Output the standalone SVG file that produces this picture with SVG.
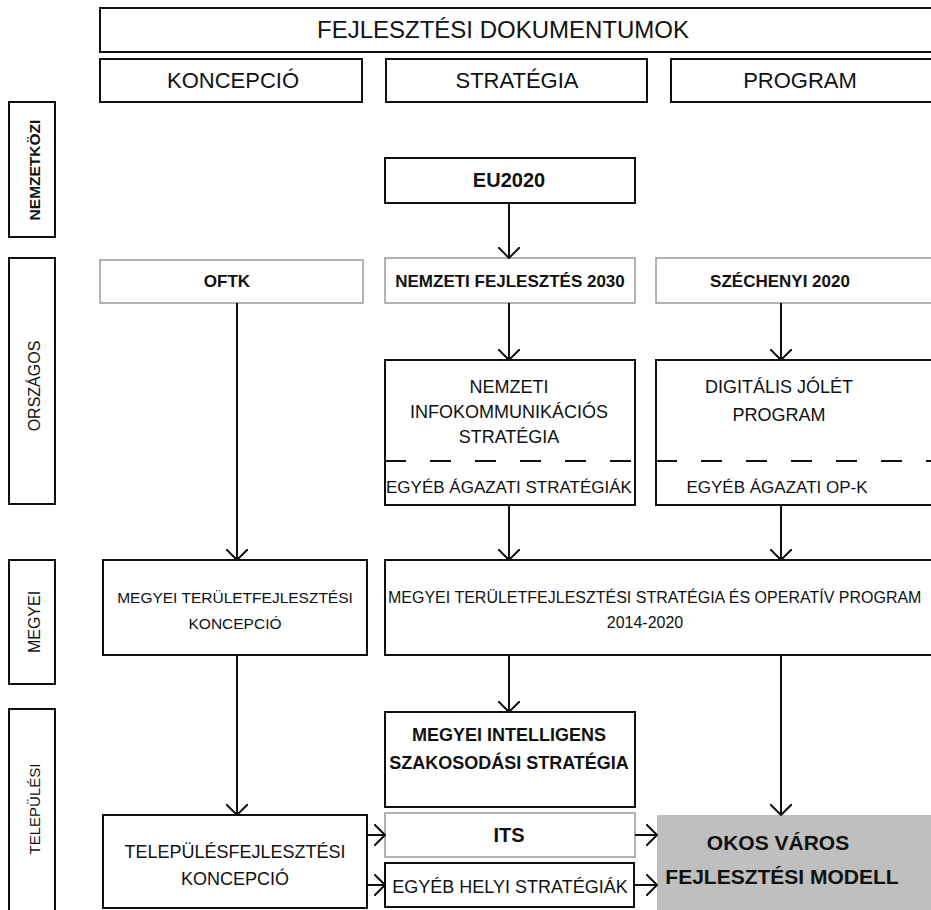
<svg xmlns="http://www.w3.org/2000/svg" width="931" height="910" viewBox="0 0 931 910">
<style>
text{font-family:"Liberation Sans",Arial,sans-serif;fill:#111;text-anchor:middle}
.box{fill:#fff;stroke:#111;stroke-width:2}
.light{fill:#fff;stroke:#9a9a9a;stroke-width:1.5}
.grey{fill:#bfbfbf;stroke:none}
.dash{stroke:#111;stroke-width:2;stroke-dasharray:21 24;fill:none}
.b{font-weight:bold}
.conn line{stroke:#111;stroke-width:2;marker-end:url(#arr)}
</style>
<defs>
<marker id="arr" markerUnits="userSpaceOnUse" viewBox="0 0 12 22" refX="11" refY="11" markerWidth="12" markerHeight="22" orient="auto">
<path d="M0,0 L11,11 L0,22" fill="none" stroke="#111" stroke-width="2"/>
</marker>
</defs>
<rect width="931" height="910" fill="#fff"/>

<g id="header">
<rect class="box" x="100" y="8" width="850" height="44"/>
<text x="503" y="38" font-size="24">FEJLESZTÉSI DOKUMENTUMOK</text>
</g>
<g id="h-koncepcio">
<rect class="box" x="100" y="59" width="262" height="43"/>
<text x="233" y="88" font-size="22">KONCEPCIÓ</text>
</g>
<g id="h-strategia">
<rect class="box" x="386" y="59" width="261" height="43"/>
<text x="517" y="88" font-size="22">STRATÉGIA</text>
</g>
<g id="h-program">
<rect class="box" x="671" y="59" width="280" height="43"/>
<text x="800" y="88" font-size="22">PROGRAM</text>
</g>

<g id="l-nemzetkozi">
<rect class="box" x="9" y="102" width="46" height="135"/>
<text transform="translate(40,170) rotate(-90)" font-size="15.5" class="b">NEMZETKÖZI</text>
</g>
<g id="l-orszagos">
<rect class="box" x="9" y="258" width="46" height="246"/>
<text transform="translate(40,386) rotate(-90)" font-size="16">ORSZÁGOS</text>
</g>
<g id="l-megyei">
<rect class="box" x="9" y="560" width="46" height="124"/>
<text transform="translate(40,622) rotate(-90)" font-size="16">MEGYEI</text>
</g>
<g id="l-telepulesi">
<rect class="box" x="9" y="709" width="46" height="215"/>
<text transform="translate(40,809) rotate(-90)" font-size="15">TELEPÜLÉSI</text>
</g>

<g id="eu2020">
<rect class="box" x="385" y="158" width="250" height="45"/>
<text x="509" y="187" font-size="20" class="b">EU2020</text>
</g>
<g id="oftk">
<rect class="light" x="100" y="260" width="263" height="43"/>
<text x="227" y="287" font-size="17" class="b">OFTK</text>
</g>
<g id="nf2030">
<rect class="light" x="385" y="258" width="250" height="45"/>
<text x="510" y="287" font-size="17" class="b">NEMZETI FEJLESZTÉS 2030</text>
</g>
<g id="szechenyi">
<rect class="light" x="656" y="258" width="290" height="45"/>
<text x="780" y="287" font-size="17" class="b">SZÉCHENYI 2020</text>
</g>

<g id="nis">
<rect class="box" x="385" y="360" width="250" height="145"/>
<text x="509" y="393" font-size="18">NEMZETI</text>
<text x="509" y="418" font-size="18">INFOKOMMUNIKÁCIÓS</text>
<text x="509" y="443" font-size="18">STRATÉGIA</text>
<line class="dash" x1="385" y1="461" x2="635" y2="461"/>
<text x="509" y="493" font-size="17">EGYÉB ÁGAZATI STRATÉGIÁK</text>
</g>
<g id="djp">
<rect class="box" x="656" y="360" width="290" height="145"/>
<text x="779" y="393" font-size="18">DIGITÁLIS JÓLÉT</text>
<text x="779" y="421" font-size="18">PROGRAM</text>
<line class="dash" x1="656" y1="461" x2="931" y2="461"/>
<text x="777" y="493" font-size="17">EGYÉB ÁGAZATI OP-K</text>
</g>

<g id="megyei-koncepcio">
<rect class="box" x="103" y="560" width="264" height="95"/>
<text x="235" y="603" font-size="15.5">MEGYEI TERÜLETFEJLESZTÉSI</text>
<text x="235" y="629" font-size="15.5">KONCEPCIÓ</text>
</g>
<g id="megyei-strategia">
<rect class="box" x="385" y="560" width="570" height="95"/>
<text x="388" y="603" font-size="16" style="text-anchor:start">MEGYEI TERÜLETFEJLESZTÉSI STRATÉGIA ÉS OPERATÍV PROGRAM</text>
<text x="645" y="628" font-size="16">2014-2020</text>
</g>

<g id="miss">
<rect class="box" x="385" y="712" width="250" height="95"/>
<text x="509" y="741" font-size="18" class="b">MEGYEI INTELLIGENS</text>
<text x="509" y="769" font-size="18" class="b">SZAKOSODÁSI STRATÉGIA</text>
</g>
<g id="telepules">
<rect class="box" x="103" y="815" width="264" height="93"/>
<text x="235" y="858" font-size="18">TELEPÜLÉSFEJLESZTÉSI</text>
<text x="235" y="885" font-size="18">KONCEPCIÓ</text>
</g>
<g id="its">
<rect class="light" x="385" y="813" width="250" height="44"/>
<text x="509" y="842" font-size="20" class="b">ITS</text>
</g>
<g id="egyeb-helyi">
<rect class="box" x="385" y="863" width="249" height="44"/>
<text x="510" y="893" font-size="18">EGYÉB HELYI STRATÉGIÁK</text>
</g>
<g id="okos">
<rect class="grey" x="657" y="815" width="290" height="95"/>
<text x="778" y="850" font-size="21" class="b">OKOS VÁROS</text>
<text x="782" y="884" font-size="21" class="b">FEJLESZTÉSI MODELL</text>
</g>

<g class="conn" id="connectors">
<line x1="509" y1="203" x2="509" y2="258"/>
<line x1="509" y1="303" x2="509" y2="360"/>
<line x1="781" y1="303" x2="781" y2="360"/>
<line x1="237" y1="303" x2="237" y2="560"/>
<line x1="509" y1="505" x2="509" y2="560"/>
<line x1="781" y1="505" x2="781" y2="560"/>
<line x1="237" y1="655" x2="237" y2="815"/>
<line x1="509" y1="655" x2="509" y2="712"/>
<line x1="781" y1="655" x2="781" y2="815"/>
<line x1="367" y1="835" x2="385" y2="835"/>
<line x1="367" y1="885" x2="385" y2="885"/>
<line x1="635" y1="835" x2="657" y2="835"/>
<line x1="634" y1="885" x2="657" y2="885"/>
</g>
</svg>
